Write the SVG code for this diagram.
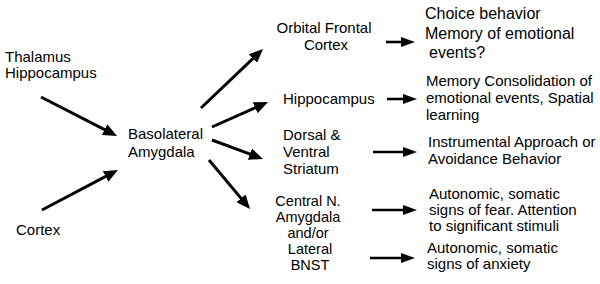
<svg xmlns="http://www.w3.org/2000/svg" width="600" height="284" viewBox="0 0 600 284">
<defs>
<style>
text{font-family:"Liberation Sans",Arial,sans-serif;font-size:15px;fill:#000}
.big{font-size:16px}
.sm{font-size:14.5px}
.mid{text-anchor:middle}
.c line{stroke:#000;stroke-width:3;marker-end:url(#ah)}
.c .s{stroke-width:2.6;marker-end:url(#ahs)}
</style>
<marker id="ah" markerUnits="userSpaceOnUse" markerWidth="14" markerHeight="12" viewBox="0 0 14 12" refX="6" refY="6" orient="auto"><path d="M0,0 L14,6 L0,12 z" fill="#000"/></marker>
<marker id="ahs" markerUnits="userSpaceOnUse" markerWidth="14" markerHeight="10" viewBox="0 0 14 10" refX="6" refY="5" orient="auto"><path d="M0,0 L14,5 L0,10 z" fill="#000"/></marker>
</defs>
<rect width="600" height="284" fill="#fff"/>
<g class="c" id="connectors">
<line x1="41" y1="97" x2="109.9" y2="132.3"/>
<line x1="42" y1="210" x2="110.9" y2="173.7"/>
<line x1="201" y1="108" x2="257.2" y2="54.5"/>
<line x1="212" y1="127" x2="260.7" y2="105.3"/>
<line x1="212" y1="140" x2="255.5" y2="156.2"/>
<line x1="209" y1="160" x2="244.9" y2="202.9"/>
<line class="s" x1="386" y1="42" x2="407" y2="42"/>
<line class="s" x1="387" y1="99" x2="409" y2="99"/>
<line class="s" x1="373" y1="152" x2="409" y2="152"/>
<line class="s" x1="372" y1="210" x2="409" y2="210"/>
<line class="s" x1="370" y1="258" x2="407" y2="258"/>
</g>
<g id="thalamus"><text x="5" y="62">Thalamus</text><text x="5" y="78">Hippocampus</text></g>
<g id="cortex"><text x="16" y="235">Cortex</text></g>
<g id="bla"><text x="128" y="139">Basolateral</text><text x="128" y="157">Amygdala</text></g>
<g id="ofc"><text class="mid" x="324" y="33">Orbital Frontal</text><text class="mid" x="326" y="50">Cortex</text></g>
<g id="hippo"><text x="283" y="104">Hippocampus</text></g>
<g id="striatum"><text x="283" y="140">Dorsal &amp;</text><text x="283" y="157">Ventral</text><text x="283" y="174">Striatum</text></g>
<g id="cea"><text class="mid sm" x="308" y="206">Central N.</text><text class="mid sm" x="308" y="222">Amygdala</text><text class="mid sm" x="308" y="238">and/or</text><text class="mid sm" x="310" y="254">Lateral</text><text class="mid sm" x="310" y="270">BNST</text></g>
<g id="choice"><text class="big" x="425" y="19">Choice behavior</text><text class="big" x="425" y="39">Memory of emotional</text><text class="big" x="429" y="58">events?</text></g>
<g id="memcons"><text x="426" y="86">Memory Consolidation of</text><text x="426" y="103">emotional events, Spatial</text><text x="426" y="120">learning</text></g>
<g id="instr"><text x="428" y="147">Instrumental Approach or</text><text x="428" y="164">Avoidance Behavior</text></g>
<g id="fear"><text x="429" y="199">Autonomic, somatic</text><text x="429" y="215">signs of fear. Attention</text><text x="429" y="231">to significant stimuli</text></g>
<g id="anxiety"><text x="427" y="253">Autonomic, somatic</text><text x="427" y="269">signs of anxiety</text></g>
</svg>
